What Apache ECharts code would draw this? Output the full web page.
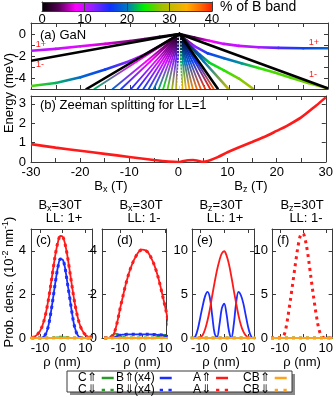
<!DOCTYPE html>
<html>
<head>
<meta charset="utf-8">
<script src="https://cdn.jsdelivr.net/npm/echarts@6/dist/echarts.min.js"></script>
<style>
html, body { margin: 0; padding: 0; background: #fff; }
#main { width: 336px; height: 397px; }
</style>
</head>
<body>
<div id="main"></div>
<script>
var FONT = 'Liberation Sans, Arial, Helvetica, DejaVu Sans, sans-serif';
var RED = '#ff1a1a', BLUE = '#1a2eff', GREEN = '#2b9a2b', ORANGE = '#ffa31a', FRAME = '#3a3a3a';

// colour scale "% of B band"
var pctRange = [0, 40];
var palette = [[0, '#000000'], [4, '#5a005a'], [8, '#ff00ff'], [12, '#9020ff'], [16, '#1030ff'], [20, '#0078c0'],
  [24, '#00f000'], [28, '#9cc000'], [31, '#d0b800'], [34, '#ffb000'], [37, '#ff7000'], [40, '#ff2000']];

// panel (a): lines as [B (T), E (meV), % of B band]
var lineLp = [[-30, -1.52, 11], [-25, -1.35, 10], [-20, -1.12, 9], [-15, -0.9, 7], [-10, -0.64, 5], [-7, -0.46, 3], [-4, -0.26, 1], [0, 0, 0]];
var lineLm = [[-30, -2.43, 0], [0, 0, 0]];
var lineLb = [[-30, -4.73, 26], [-25, -4.45, 22], [-20, -3.94, 19], [-15, -3.22, 17], [-10, -2.45, 12], [-7, -1.85, 9], [-4, -1.1, 5], [-2, -0.55, 2], [0, 0, 0]];
var lineLk = [[-18.8, -5, 0], [0, 0, 0]];
var lineRp = [[0, 0, 0], [3, -0.33, 3], [6, -0.62, 8], [9, -0.9, 10], [12, -1.08, 10], [16, -1.2, 11], [20, -1.26, 14], [25, -1.29, 17], [30, -1.3, 19]];
var lineRm = [[0, 0, 0], [30, -4.95, 0]];
var lineRb = [[0, 0, 0], [1.5, -0.6, 5], [3, -1.1, 12], [5.7, -1.76, 17], [9, -2.2, 19], [12.5, -2.67, 21], [16, -3.1, 25], [19.2, -3.5, 26], [22.5, -3.98, 26], [26, -4.45, 27], [30, -4.95, 28]];
var lineRg = [[0, 0, 0], [2, -0.95, 10], [4, -1.85, 18], [6, -2.6, 23], [9, -3.3, 25], [12, -4.05, 27], [14.8, -4.95, 29]];
var lineRo = [[0, 0, 0], [4.9, -2.5, 20], [9.8, -4.95, 30]];
var lineRk = [[0, 0, 0], [7.7, -4.95, 0]];
var fanLeft = [
  [[0, 0, 0], [-8.6, -2.5, 8], [-17.2, -5, 22]],
  [[0, 0, 0], [-6.75, -2.5, 8], [-13.5, -5, 19]],
  [[0, 0, 0], [-5.9, -2.5, 8], [-11.8, -5, 17]],
  [[0, 0, 0], [-4.9, -2.5, 9], [-9.8, -5, 16]],
  [[0, 0, 0], [-4.25, -2.5, 9], [-8.5, -5, 16]],
  [[0, 0, 0], [-3.65, -2.5, 9], [-7.3, -5, 17]],
  [[0, 0, 0], [-3.1, -2.5, 9], [-6.2, -5, 18]],
  [[0, 0, 0], [-2.6, -2.5, 10], [-5.2, -5, 20]],
  [[0, 0, 0], [-2.1, -2.5, 10], [-4.2, -5, 22]],
  [[0, 0, 0], [-1.65, -2.5, 11], [-3.3, -5, 24]],
  [[0, 0, 0], [-1.2, -2.5, 12], [-2.4, -5, 26]],
  [[0, 0, 0], [-0.75, -2.5, 13], [-1.5, -5, 28]],
  [[0, 0, 0], [-0.35, -2.5, 14], [-0.7, -5, 30]]
];
var fanRight = [
  [[0, 0, 0], [0.3, -2.5, 22], [0.6, -5, 33]],
  [[0, 0, 0], [0.65, -2.5, 21], [1.3, -5, 34]],
  [[0, 0, 0], [1.0, -2.5, 20], [2.0, -5, 35]],
  [[0, 0, 0], [1.35, -2.5, 19], [2.7, -5, 36]],
  [[0, 0, 0], [1.75, -2.5, 18], [3.5, -5, 37]],
  [[0, 0, 0], [2.15, -2.5, 18], [4.3, -5, 38]],
  [[0, 0, 0], [2.6, -2.5, 17], [5.2, -5, 39]],
  [[0, 0, 0], [3.1, -2.5, 17], [6.2, -5, 40]],
  [[0, 0, 0], [3.45, -2.5, 16], [6.9, -5, 38]]
];
var zeroFieldE = [-0.3, -0.6, -0.9, -1.2, -1.5, -1.8, -2.1, -2.4, -2.7, -3.0, -3.3, -3.6, -3.9, -4.2, -4.5, -4.8];

// panel (b): Zeeman splitting
var zeemanB = [-30, -25, -20, -15, -10, -5, -2, 0, 1, 2, 3, 4, 5, 6, 8, 10, 12, 15, 18, 20, 22, 25, 28, 30];
var zeemanE = [0.92, 0.74, 0.58, 0.42, 0.26, 0.1, 0.02, 0, 0.05, 0.09, 0.1, 0.06, 0.01, 0.05, 0.25, 0.5, 0.72, 1.03, 1.35, 1.6, 1.85, 2.3, 2.9, 3.33];

// panels (c)-(f): probability densities vs rho (nm)
var rho = [-17, -16, -15, -14, -13, -12, -11, -10, -9, -8, -7, -6, -5, -4, -3, -2, -1, 0, 1, 2, 3, 4, 5, 6, 7, 8, 9, 10, 11, 12, 13];
var cA = [0, 0, 0, 0.02, 0.04, 0.09, 0.18, 0.32, 0.55, 0.89, 1.36, 1.94, 2.61, 3.31, 3.95, 4.43, 4.68, 4.65, 4.35, 3.83, 3.17, 2.48, 1.82, 1.26, 0.82, 0.5, 0.29, 0.16, 0.08, 0.04, 0.02];
var cB = [0, 0, 0, 0, 0, 0, 0, 0, 0.02, 0.1, 0.3, 0.7, 1.3, 2.0, 2.7, 3.3, 3.62, 3.6, 3.25, 2.6, 1.95, 1.25, 0.65, 0.28, 0.08, 0.02, 0, 0, 0, 0, 0];
var cC = [0, 0, 0, 0, 0, 0, 0, 0, 0, 0, 0, 0, 0, 0.01, 0.02, 0.03, 0.03, 0.03, 0.03, 0.02, 0.01, 0, 0, 0, 0, 0, 0, 0, 0, 0, 0];
var dA = [0, 0, 0.01, 0.04, 0.14, 0.42, 0.85, 1.35, 1.8, 2.25, 2.65, 3.0, 3.3, 3.55, 3.75, 3.92, 4.02, 4.05, 4.03, 3.96, 3.82, 3.62, 3.38, 3.08, 2.72, 2.3, 1.85, 1.4, 0.9, 0.45, 0.15];
var dB = [0, 0, 0, 0, 0.02, 0.06, 0.1, 0.13, 0.15, 0.16, 0.17, 0.17, 0.17, 0.17, 0.17, 0.17, 0.17, 0.17, 0.17, 0.17, 0.17, 0.16, 0.16, 0.15, 0.14, 0.13, 0.12, 0.1, 0.07, 0.04, 0.02];
var dC = [0, 0, 0, 0.05, 0.15, 0.2, 0.15, 0.08, 0.03, 0.01, 0, 0, 0, 0, 0, 0, 0, 0, 0, 0, 0, 0, 0, 0.03, 0.1, 0.18, 0.15, 0.08, 0.03, 0, 0];
var eA = [0, 0, 0, 0, 0, 0, 0.02, 0.1, 0.35, 1.0, 2.0, 3.3, 4.9, 6.4, 7.8, 8.9, 9.7, 9.95, 9.45, 8.45, 7.05, 5.5, 4.0, 2.6, 1.5, 0.75, 0.3, 0.1, 0.02, 0, 0];
var eB = [0, 0, 0, 0, 0, 0.23, 1.1, 2.4, 3.7, 4.8, 5.28, 4.6, 2.5, 0.5, 0.1, 1.5, 3.4, 3.95, 2.7, 0.8, 0.02, 1.5, 4.0, 5.3, 4.9, 4.0, 2.65, 1.3, 0.35, 0, 0];
var fA = [0, 0, 0, 0, 0, 0, 0, 0.02, 0.08, 0.5, 1.7, 3.4, 5.2, 7.1, 9.0, 10.7, 11.8, 12.0, 11.3, 9.9, 8.0, 6.0, 4.1, 2.4, 1.0, 0.3, 0.05, 0, 0, 0, 0];
var zeros = [0, 0, 0, 0, 0, 0, 0, 0, 0, 0, 0, 0, 0, 0, 0, 0, 0, 0, 0, 0, 0, 0, 0, 0, 0, 0, 0, 0, 0, 0, 0];

// ---------- helpers ----------
function hexRgb(h) { return [parseInt(h.substr(1, 2), 16), parseInt(h.substr(3, 2), 16), parseInt(h.substr(5, 2), 16)]; }
function pal(v) {
  if (v <= palette[0][0]) return palette[0][1];
  for (var i = 1; i < palette.length; i++) {
    if (v <= palette[i][0]) {
      var t = (v - palette[i - 1][0]) / (palette[i][0] - palette[i - 1][0]);
      var a = hexRgb(palette[i - 1][1]), b = hexRgb(palette[i][1]);
      return 'rgb(' + Math.round(a[0] + (b[0] - a[0]) * t) + ',' + Math.round(a[1] + (b[1] - a[1]) * t) + ',' + Math.round(a[2] + (b[2] - a[2]) * t) + ')';
    }
  }
  return palette[palette.length - 1][1];
}

var xAxes = [], yAxes = [];
function axisBase(g, pos, o) {
  var lab = {show: !!o.label, color: '#000', fontSize: 13, fontFamily: FONT, margin: o.margin || 4};
  if (o.formatter) lab.formatter = o.formatter;
  if (o.showMin === false) lab.showMinLabel = false;
  if (o.showMax === false) lab.showMaxLabel = false;
  var a = {
    gridIndex: g, type: 'value', position: pos, min: o.min, max: o.max,
    axisLine: {show: true, onZero: false, lineStyle: {color: FRAME, width: 1}},
    axisTick: {show: o.tick !== false, inside: true, length: o.tickLen || 4, lineStyle: {color: FRAME}},
    axisLabel: lab,
    splitLine: {show: false},
    z: o.z || 0
  };
  if (o.interval != null) a.interval = o.interval;
  if (o.splitNumber) a.splitNumber = o.splitNumber;
  return a;
}
function frame(g, xo, yo) {
  var ix = xAxes.length, iy = yAxes.length;
  xAxes.push(axisBase(g, 'bottom', xo));
  xAxes.push(axisBase(g, 'top', Object.assign({}, xo, {label: false})));
  yAxes.push(axisBase(g, 'left', yo));
  yAxes.push(axisBase(g, 'right', Object.assign({}, yo, {label: false})));
  return {x: ix, y: iy};
}
var even = function (v) { return v % 2 === 0 ? String(v) : ''; };
var tens = function (v) { return Math.abs(v % 10) < 1e-9 ? String(v) : ''; };

var axCb = frame(0, {min: pctRange[0], max: pctRange[1], interval: 10, label: true, tickLen: 9, margin: 2, z: 5}, {min: 0, max: 1, tick: false, z: 5});
var axA = frame(1, {min: -30, max: 30, interval: 5}, {min: -5, max: 1, interval: 1, label: true, formatter: even, margin: 5});
var axB = frame(2, {min: -30, max: 30, interval: 5, label: true, formatter: tens, margin: 4}, {min: 0, max: 3.4, interval: 1, label: true, showMax: false, margin: 5});
var axC = frame(3, {min: -14, max: 13, splitNumber: 3, label: true, formatter: tens, showMin: false, showMax: false}, {min: 0, max: 5, interval: 2, label: true, showMax: false, margin: 5});
var axD = frame(4, {min: -18, max: 10.3, splitNumber: 3, label: true, formatter: tens, showMin: false, showMax: false}, {min: 0, max: 5, interval: 2, label: true, showMax: false, margin: 5});
var axE = frame(5, {min: -13.5, max: 12.5, splitNumber: 3, label: true, formatter: tens, showMin: false, showMax: false}, {min: 0, max: 12.5, interval: 5, label: true, showMax: false, margin: 4});
var axF = frame(6, {min: -13.5, max: 13, splitNumber: 3, label: true, formatter: tens, showMin: false, showMax: false}, {min: 0, max: 12.5, interval: 5, label: true, showMax: false, margin: 4});

function toSegments(lines) {
  var out = [];
  lines.forEach(function (ln) {
    for (var i = 0; i < ln.length - 1; i++) {
      out.push([ln[i][0], ln[i][1], ln[i + 1][0], ln[i + 1][1], ln[i][2], ln[i + 1][2]]);
    }
  });
  return out;
}
function segSeries(lines, width, ax, z) {
  return {
    type: 'custom', coordinateSystem: 'cartesian2d', xAxisIndex: ax.x, yAxisIndex: ax.y,
    clip: true, silent: true, z: z, encode: {x: [0, 2], y: [1, 3]},
    data: toSegments(lines),
    renderItem: function (params, api) {
      var p = api.coord([api.value(0), api.value(1)]);
      var q = api.coord([api.value(2), api.value(3)]);
      var c0 = pal(api.value(4)), c1 = pal(api.value(5));
      var stroke = c0 === c1 ? c0 : new echarts.graphic.LinearGradient(p[0], p[1], q[0], q[1],
        [{offset: 0, color: c0}, {offset: 1, color: c1}], true);
      return {type: 'line', shape: {x1: p[0], y1: p[1], x2: q[0], y2: q[1]},
        style: {stroke: stroke, lineWidth: width, lineCap: 'round', fill: null}};
    }
  };
}
function profile(name, ax, vals, color, dotted, z) {
  return {
    type: 'line', name: name, xAxisIndex: ax.x, yAxisIndex: ax.y,
    data: rho.map(function (r, i) { return [r, vals[i]]; }),
    symbol: 'none', smooth: 0.35, clip: true, silent: true, color: color, z: z || 2,
    lineStyle: {color: color, width: dotted ? 3 : 1.8, type: dotted ? [3, 4] : 'solid', cap: 'butt'}
  };
}
function panelSet(ax, d) {
  var s = [];
  s.push(profile('C⇑', ax, d.C || zeros, GREEN, false));
  s.push(profile('C⇓', ax, d.Cd || d.C || zeros, GREEN, true));
  if (d.B) s.push(profile('B⇑(x4)', ax, d.B, BLUE, false));
  if (d.Bd) s.push(profile('B⇓(x4)', ax, d.Bd, BLUE, true));
  if (d.A) s.push(profile('A⇑', ax, d.A, RED, false, 3));
  if (d.Ad) s.push(profile('A⇓', ax, d.Ad, RED, true, 3));
  s.push(profile('CB⇑', ax, zeros, ORANGE, false, 4));
  s.push(profile('CB⇓', ax, zeros, ORANGE, true, 4));
  return s;
}

var palStops = palette.map(function (p) { return {offset: (p[0] - pctRange[0]) / (pctRange[1] - pctRange[0]), color: p[1]}; });

var series = [
  {
    type: 'custom', xAxisIndex: axCb.x, yAxisIndex: axCb.y, silent: true, z: 1,
    data: [[pctRange[0], pctRange[1]]],
    renderItem: function (params, api) {
      var a = api.coord([api.value(0), 0]), b = api.coord([api.value(1), 1]);
      return {type: 'rect', shape: {x: a[0], y: b[1], width: b[0] - a[0], height: a[1] - b[1]},
        style: {fill: new echarts.graphic.LinearGradient(a[0], 0, b[0], 0, palStops, true)}};
    }
  },
  segSeries(fanLeft.concat(fanRight), 1.8, axA, 2),
  {
    type: 'scatter', xAxisIndex: axA.x, yAxisIndex: axA.y, silent: true, z: 3,
    data: zeroFieldE.map(function (e) { return [0, e]; }),
    symbol: 'path://M2,0H3V5H2ZM0,2H5V3H0Z', symbolSize: 5, itemStyle: {color: '#ffffff'}
  },
  segSeries([lineLb, lineRb, lineRg, lineRo, lineLp, lineRp], 2.6, axA, 4),
  segSeries([lineLm, lineLk, lineRm, lineRk], 2.6, axA, 5),
  {
    type: 'line', xAxisIndex: axB.x, yAxisIndex: axB.y, silent: true,
    data: zeemanB.map(function (b, i) { return [b, zeemanE[i]]; }),
    symbol: 'none', smooth: 0.3, color: RED, lineStyle: {color: RED, width: 2.6}
  }
];
series = series.concat(
  panelSet(axC, {B: cB, Bd: cB, A: cA, Ad: cA, C: cC}),
  panelSet(axD, {B: dB, Bd: dB, A: dA, Ad: dA, C: dC}),
  panelSet(axE, {B: eB, A: eA}),
  panelSet(axF, {Ad: fA})
);

var SOLID = 'path://M0,0H12V2H0Z';
var DOTS = 'path://M0,0H3V2H0ZM8,0H11V2H8Z';
function legendCol(names, left) {
  return {
    orient: 'vertical', align: 'right', left: left, top: 372, padding: 0, itemGap: 0,
    itemWidth: 12, itemHeight: 2.5, symbolKeepAspect: false, selectedMode: false,
    textStyle: {fontSize: 12, lineHeight: 10, color: '#000', fontFamily: FONT},
    data: [{name: names[0], icon: SOLID}, {name: names[1], icon: DOTS}]
  };
}

function txt(x, y, text, o) {
  o = o || {};
  return {
    type: 'text', x: x, y: y, rotation: o.rot || 0, z: 50, silent: true,
    style: {
      text: text, fill: o.color || '#000', fontSize: o.size || 13, fontFamily: FONT,
      textAlign: o.align || 'center', textVerticalAlign: 'middle',
      rich: {
        sub: {fontSize: 9, lineHeight: 8, verticalAlign: 'bottom', fontFamily: FONT, fill: '#000'},
        sup: {fontSize: 9, lineHeight: 8, verticalAlign: 'top', fontFamily: FONT, fill: '#000'},
        n: {fontSize: o.size || 13, lineHeight: 16, fontFamily: FONT, fill: o.color || '#000'}
      }
    }
  };
}

var graphics = [
  txt(220, 7, '% of B band', {align: 'left', size: 14}),
  txt(40, 35, '(a) GaN', {align: 'left'}),
  txt(40, 105, '(b) Zeeman splitting for LL=1', {align: 'left'}),
  txt(41, 45, '1+', {color: RED, size: 9}),
  txt(40, 65, '1-', {color: RED, size: 9}),
  txt(314, 43, '1+', {color: RED, size: 9}),
  txt(313, 75, '1-', {color: RED, size: 9}),
  txt(9, 93, 'Energy (meV)', {rot: Math.PI / 2}),
  txt(111, 186, '{n|B}{sub|x}{n| (T)}'),
  txt(251, 186, '{n|B}{sub|z}{n| (T)}'),
  txt(60, 205, '{n|B}{sub|x}{n|=30T}'), txt(64, 218, 'LL: 1+'),
  txt(141, 205, '{n|B}{sub|x}{n|=30T}'), txt(144, 218, 'LL: 1-'),
  txt(221, 205, '{n|B}{sub|z}{n|=30T}'), txt(225, 218, 'LL: 1+'),
  txt(302, 205, '{n|B}{sub|z}{n|=30T}'), txt(306, 218, 'LL: 1-'),
  txt(36, 240, '(c)', {align: 'left'}), txt(117, 240, '(d)', {align: 'left'}),
  txt(197, 240, '(e)', {align: 'left'}), txt(277, 240, '(f)', {align: 'left'}),
  txt(62, 362, 'ρ (nm)'), txt(142, 362, 'ρ (nm)'), txt(221, 362, 'ρ (nm)'), txt(302, 362, 'ρ (nm)'),
  txt(9, 282, '{n|Prob. dens. (10}{sup|-2}{n| nm}{sup|-1}{n|)}', {rot: Math.PI / 2}),
  {type: 'rect', shape: {x: 70, y: 374, width: 225, height: 21}, style: {fill: '#8a8a8a'}, z: 0, silent: true},
  {type: 'rect', shape: {x: 67, y: 371, width: 225, height: 21}, style: {fill: '#fff', stroke: FRAME, lineWidth: 1}, z: 1, silent: true}
];

var chart = echarts.init(document.getElementById('main'), null, {renderer: 'canvas'});
chart.setOption({
  animation: false,
  backgroundColor: '#fff',
  grid: [
    {left: 42, top: 2, width: 170, height: 9},
    {left: 31, top: 23, width: 297, height: 66},
    {left: 31, top: 96, width: 297, height: 66},
    {left: 31, top: 229, width: 61, height: 109},
    {left: 102, top: 229, width: 64, height: 109},
    {left: 192, top: 229, width: 62, height: 109},
    {left: 272, top: 229, width: 62, height: 109}
  ],
  xAxis: xAxes,
  yAxis: yAxes,
  legend: [
    legendCol(['C⇑', 'C⇓'], 78),
    legendCol(['B⇑(x4)', 'B⇓(x4)'], 116),
    legendCol(['A⇑', 'A⇓'], 193),
    legendCol(['CB⇑', 'CB⇓'], 243)
  ],
  graphic: graphics,
  series: series
});
</script>
</body>
</html>
